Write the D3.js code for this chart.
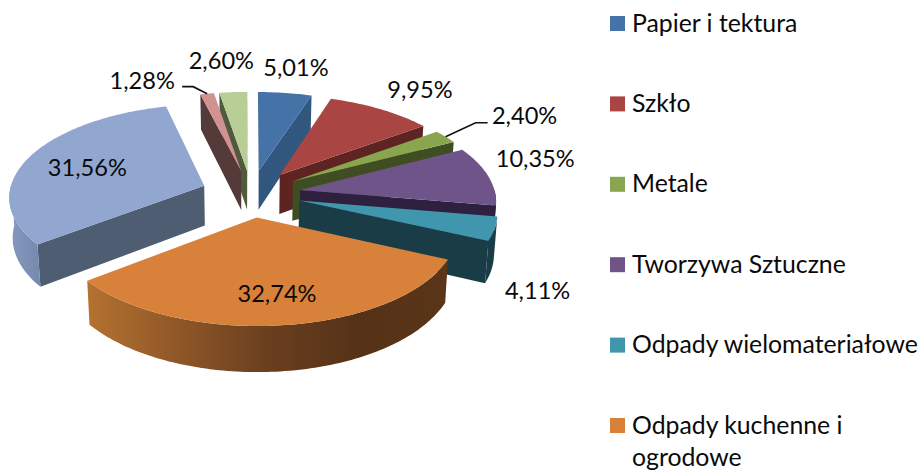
<!DOCTYPE html>
<html>
<head>
<meta charset="utf-8">
<script src="https://d3js.org/d3.v7.min.js"></script>
<style>
  html, body { margin: 0; padding: 0; background: #fff; }
  text { font-family: Lato, "Open Sans", sans-serif; fill: #0a0a0a; }
</style>
</head>
<body>
<div id="chart"></div>
<script>
// values, in pie order (clockwise from 12 o'clock)
const shares = [5.01, 9.95, 2.40, 10.35, 4.11, 32.74, 31.56, 1.28, 2.60];
const shareLabels = ["5,01%", "9,95%", "2,40%", "10,35%", "4,11%", "32,74%", "31,56%", "1,28%", "2,60%"];
// only the first six legend rows fit in the picture
const legendLabels = ["Papier i tektura", "Szkło", "Metale", "Tworzywa Sztuczne", "Odpady wielomateriałowe", "Odpady kuchenne i\nogrodowe"];

const topColors = ["#4572a7", "#a94543", "#89a54e", "#6f5489", "#3f96ad", "#d8813b", "#91a7cf", "#d19392", "#b9cd96"];
const wallColors = ["#32577f", "#5e2422", "#3f4d22", "#2e2140", "#1a3c47", "#5a3418", "#4f5d73", "#553a3a", "#505b3e"];
const arcWallStops = {
    3: ["#2e2140", "#2e2140"],
    4: ["#1a3c47", "#1a3c47"],
    5: ["#b5722f", "#8f5728", "#6a3f1e", "#553217", "#5a3518"],
    6: ["#8499bd", "#7489ad"]
};

// label offsets from the middle of each slice's outer edge
const labelOffsets = [[11, -26], [39, -20], [79, -22], [47, -18], [43, 61], [-6, -32], [58, 10], [-65, -14], [-12, -32]];
// leader lines: slice index, elbow and end relative to the slice's outer edge
const leaders = [
    {slice: 2, elbow: [30, -14], end: [42, -14]},
    {slice: 7, elbow: [-14, -7], end: [-25, -7]}
];

const width = 919;
const height = 470;

// pie geometry, fitted to the picture
const cx = 251, cy = 193.5;
const radius = 195, explode = 50, tilt = 0.47, persp = 0.00054, depth = 40;

const svg = d3.select("#chart").append("svg")
    .attr("width", width)
    .attr("height", height)
    .style("display", "block");
const defs = svg.append("defs");

const pie = d3.pie().sort(null).value(d => d);
const slices = pie(shares).map((d, i) => {
    const mid = (d.startAngle + d.endAngle) / 2;
    return {i, a0: d.startAngle, a1: d.endAngle, mid, z: -Math.cos(mid)};
});

// ground plane point -> screen, level 0 is the top face, level 1 the bottom
function project(s, a, r, level) {
    const X = explode * Math.sin(s.mid) + r * Math.sin(a);
    const Z = -explode * Math.cos(s.mid) - r * Math.cos(a);
    const p = 1 / (1 - persp * Z);
    const shrink = level ? 0.986 : 1;
    return [cx + X * p * shrink, cy + tilt * Z * p + level * depth * p];
}

function arcAngles(a0, a1) {
    const n = Math.max(2, Math.ceil((a1 - a0) / 0.02));
    return d3.range(n + 1).map(j => a0 + (a1 - a0) * j / n);
}

const line = d3.line();

const pieG = svg.append("g");

// back slices first so the front ones paint over them
slices.slice().sort((a, b) => d3.ascending(a.z, b.z)).forEach(s => {
    const g = pieG.append("g");
    const apexTop = project(s, 0, 0, 0);
    const apexBot = project(s, 0, 0, 1);

    // straight walls, only the ones facing the viewer
    [[s.a0, Math.sin(s.a0) < 0], [s.a1, Math.sin(s.a1) > 0]].forEach(([a, visible]) => {
        if (!visible) return;
        g.append("path")
            .attr("d", line([apexTop, project(s, a, radius, 0), project(s, a, radius, 1), apexBot]) + "Z")
            .attr("fill", wallColors[s.i]);
    });

    // curved wall, the part on the front half of the circle
    const from = Math.max(s.a0, Math.PI / 2);
    const to = Math.min(s.a1, Math.PI * 1.5);
    if (to > from) {
        const angles = arcAngles(from, to);
        const upper = angles.map(a => project(s, a, radius, 0));
        const lower = angles.map(a => project(s, a, radius, 1)).reverse();
        const xExtent = d3.extent(upper.concat(lower), d => d[0]);
        const stops = arcWallStops[s.i] || [wallColors[s.i], wallColors[s.i]];
        const grad = defs.append("linearGradient")
            .attr("id", "wall" + s.i)
            .attr("gradientUnits", "userSpaceOnUse")
            .attr("x1", xExtent[0]).attr("x2", xExtent[1])
            .attr("y1", 0).attr("y2", 0);
        stops.forEach((c, j) => {
            grad.append("stop").attr("offset", j / (stops.length - 1)).attr("stop-color", c);
        });
        g.append("path")
            .attr("d", line(upper.concat(lower)) + "Z")
            .attr("fill", `url(#wall${s.i})`);
    }

    // top face
    const rim = arcAngles(s.a0, s.a1).map(a => project(s, a, radius, 0));
    g.append("path")
        .attr("d", line([apexTop].concat(rim)) + "Z")
        .attr("fill", topColors[s.i]);
});

// leader lines
leaders.forEach(l => {
    const s = slices[l.slice];
    const [x, y] = project(s, s.mid, radius, 0);
    svg.append("path")
        .attr("d", line([[x, y], [x + l.elbow[0], y + l.elbow[1]], [x + l.end[0], y + l.end[1]]]))
        .attr("fill", "none")
        .attr("stroke", "#111")
        .attr("stroke-width", 1.6);
});

// percentage labels
svg.append("g").selectAll("text")
    .data(slices)
    .join("text")
    .attr("text-anchor", "middle")
    .attr("dominant-baseline", "central")
    .attr("font-size", 23.6)
    .attr("x", s => project(s, s.mid, radius, 0)[0] + labelOffsets[s.i][0])
    .attr("y", s => project(s, s.mid, radius, 0)[1] + labelOffsets[s.i][1])
    .text(s => shareLabels[s.i]);

// legend
const legendY = d3.scaleLinear().domain([0, 5]).range([23.5, 425.5]);
const legend = svg.append("g").selectAll("g")
    .data(legendLabels)
    .join("g")
    .attr("transform", (d, i) => `translate(610,${legendY(i)})`);

legend.append("rect")
    .attr("y", -7.5)
    .attr("width", 15)
    .attr("height", 15)
    .attr("fill", (d, i) => topColors[i]);

legend.append("text")
    .attr("font-size", 24.8)
    .selectAll("tspan")
    .data(d => d.split("\n"))
    .join("tspan")
    .attr("x", 22)
    .attr("y", (d, j) => 8 + j * 32)
    .text(d => d);
</script>
</body>
</html>
